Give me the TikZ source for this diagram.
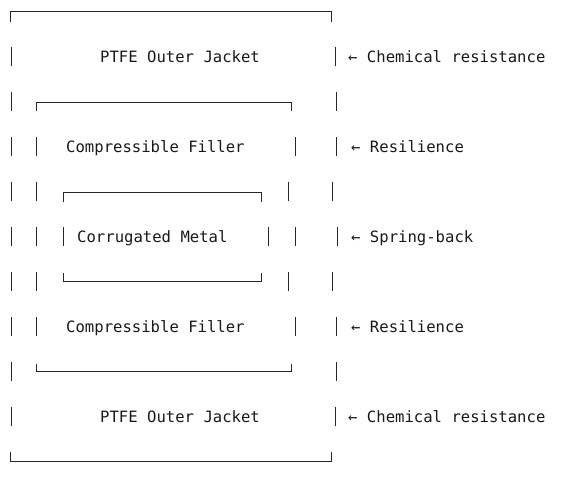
\documentclass[tikz,border=0pt]{standalone}
\usepackage{fontspec}
\setmonofont{DejaVu Sans Mono}
\begin{document}
\begin{tikzpicture}[x=1pt,y=-1pt,
  ln/.style={draw=black!85,line width=1pt},
  lbl/.style={anchor=base west,inner sep=0pt,text=black!90,font=\ttfamily\fontsize{15.6}{18}\selectfont}]
\useasboundingbox (0,0) rectangle (566,494);
% outer jacket box
\draw[ln] (10.5,22) -- (10.5,12) -- (331,12) -- (331,22);
\draw[ln] (10.5,452) -- (10.5,462) -- (331,462) -- (331,452);
% middle filler box
\draw[ln] (36,111) -- (36,103) -- (291,103) -- (291,111);
\draw[ln] (36,364) -- (36,372) -- (291,372) -- (291,364);
% inner metal box
\draw[ln] (63,202) -- (63,193) -- (261,193) -- (261,202);
\draw[ln] (63,273) -- (63,282) -- (261,282) -- (261,273);
% vertical bar segments per row
\foreach \yy/\xs in {57/{11,335},102/{11,336},147/{11,36,295,336},192/{11,36,288,332},
  237/{11,36,63,268,295,337},282/{11,36,288,332},327/{11,36,295,336},372/{11,336},417/{11,335}}{
  \foreach \xx in \xs {\draw[ln] (\xx,\yy-9.5) -- (\xx,\yy+9.5);}
}
% texts
\node[lbl] (ptfeT) at (100,63) {PTFE Outer Jacket};
\node[lbl] (fillT) at (66,153) {Compressible Filler};
\node[lbl] (metal) at (77,243) {Corrugated Metal};
\node[lbl] (fillB) at (66,333) {Compressible Filler};
\node[lbl] (ptfeB) at (100,423) {PTFE Outer Jacket};
% annotations
\node[lbl] (aChemT) at (348,63) {← Chemical resistance};
\node[lbl] (aResT) at (351,153) {← Resilience};
\node[lbl] (aSpr) at (351,243) {← Spring-back};
\node[lbl] (aResB) at (351,333) {← Resilience};
\node[lbl] (aChemB) at (348,423) {← Chemical resistance};
\end{tikzpicture}
\end{document}
